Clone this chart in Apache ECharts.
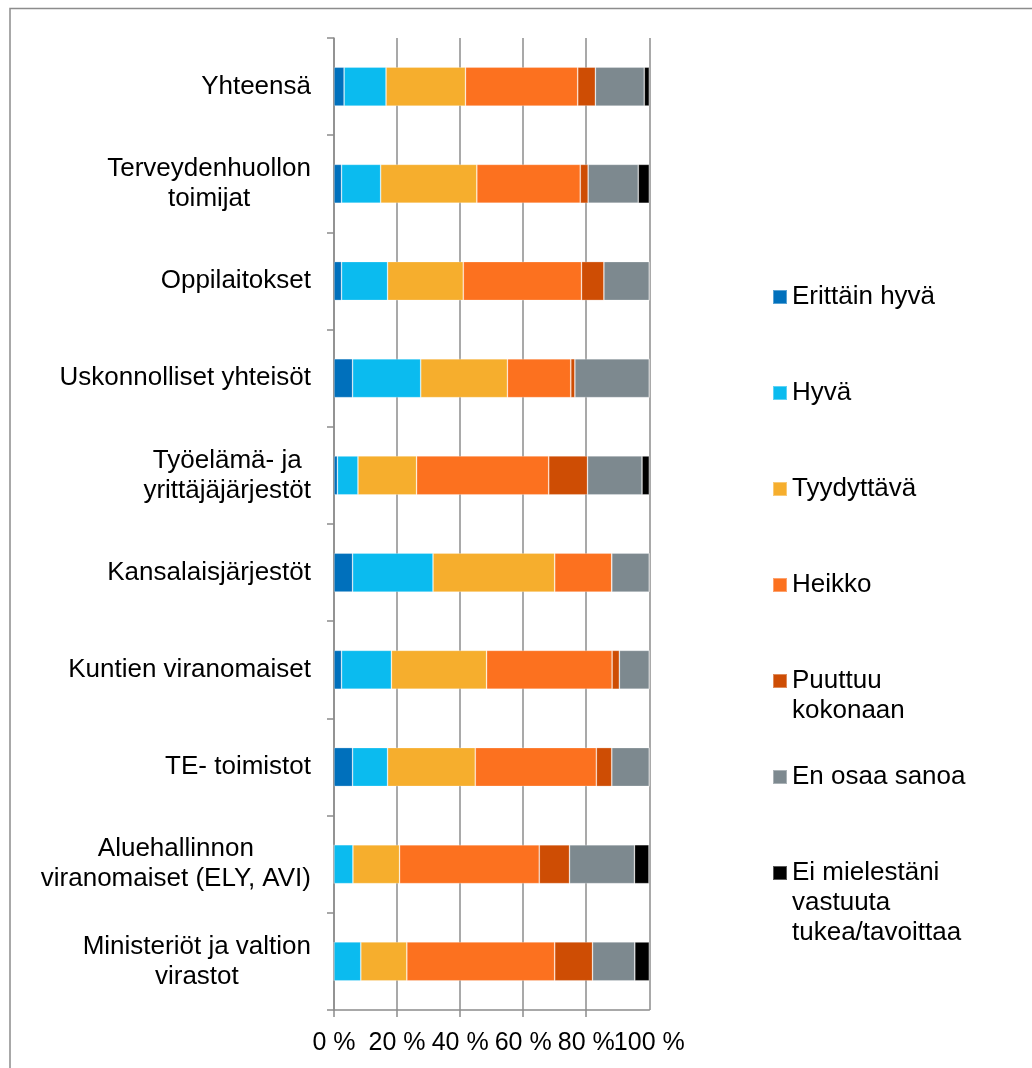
<!DOCTYPE html>
<html>
<head>
<meta charset="utf-8">
<script src="https://cdn.jsdelivr.net/npm/echarts@6/dist/echarts.min.js"></script>
<style>
  html, body { margin: 0; padding: 0; background: #fff; }
  #chart { width: 1032px; height: 1068px; }
</style>
</head>
<body>
<div id="chart"></div>
<script>
// Categories, top to bottom
const categories = [
  'Yhteensä',
  'Terveydenhuollon\ntoimijat',
  'Oppilaitokset',
  'Uskonnolliset yhteisöt',
  'Työelämä- ja\nyrittäjäjärjestöt',
  'Kansalaisjärjestöt',
  'Kuntien viranomaiset',
  'TE- toimistot',
  'Aluehallinnon\nviranomaiset (ELY, AVI)',
  'Ministeriöt ja valtion\nvirastot'
];

// Share of answers (%) per category
const erittainHyva = [3.2, 2.4, 2.4, 5.9, 1.1, 5.9, 2.4, 5.9, 0, 0];
const hyva         = [13.3, 12.4, 14.6, 21.6, 6.5, 25.5, 15.8, 11.1, 6.0, 8.5];
const tyydyttava   = [25.2, 30.5, 24.0, 27.5, 18.6, 38.6, 30.2, 27.8, 14.8, 14.6];
const heikko       = [35.6, 32.8, 37.5, 20.1, 41.9, 18.1, 39.8, 38.4, 44.3, 46.9];
const puuttuu      = [5.6, 2.5, 7.1, 1.3, 12.3, 0, 2.3, 4.9, 9.6, 12.0];
const enOsaa       = [15.5, 15.9, 14.4, 23.6, 17.3, 11.9, 9.5, 11.9, 20.6, 13.4];
const eiVastuuta   = [1.6, 3.5, 0, 0, 2.3, 0, 0, 0, 4.6, 4.6];

const seriesNames = [
  'Erittäin hyvä', 'Hyvä', 'Tyydyttävä', 'Heikko',
  'Puuttuu kokonaan', 'En osaa sanoa', 'Ei mielestäni vastuuta tukea/tavoittaa'
];
const legendLines = [
  ['Erittäin hyvä'], ['Hyvä'], ['Tyydyttävä'], ['Heikko'],
  ['Puuttuu', 'kokonaan'], ['En osaa sanoa'], ['Ei mielestäni', 'vastuuta', 'tukea/tavoittaa']
];
const xTickValues = [0, 20, 40, 60, 80, 100];
const xTickLabels = ['0 %', '20 %', '40 %', '60 %', '80 %', '100 %'];

const seriesData = [erittainHyva, hyva, tyydyttava, heikko, puuttuu, enOsaa, eiVastuuta];
const colors = ['#0070BC', '#0BBBEF', '#F6AE2D', '#FC711F', '#CE4D04', '#7D898F', '#000000'];

const FONT = 'Liberation Sans, Arial, sans-serif';
const GRAY = '#8c8c8c';
const LINE_H = 30;

// One legend block per series, stacked down the right side; the swatch sits
// beside the first line of each (possibly wrapped) label.
const legends = seriesNames.map((name, i) => {
  const lines = legendLines[i];
  const k = lines.length;
  const text = Array(k - 1).fill('').concat(lines).join('\n');
  const centerY = 297 + i * 96;
  return {
    data: [name],
    orient: 'vertical',
    left: 772,
    top: centerY - (2 * k - 1) * LINE_H / 2,
    padding: 0,
    itemWidth: 14,
    itemHeight: 14,
    icon: 'rect',
    formatter: () => text,
    textStyle: { fontSize: 26, lineHeight: LINE_H, color: '#000', fontFamily: FONT }
  };
});

const lastTick = xTickValues[xTickValues.length - 1];
const tickLabel = v => xTickLabels[xTickValues.indexOf(v)];
const xLabelStyle = {
  margin: 18,
  fontSize: 25,
  lineHeight: LINE_H,
  color: '#000',
  fontFamily: FONT,
  hideOverlap: false
};

const chart = echarts.init(document.getElementById('chart'), null, { renderer: 'canvas' });

chart.setOption({
  animation: false,
  backgroundColor: '#fff',
  color: colors,
  graphic: [{
    type: 'rect',
    shape: { x: 10, y: 8.5, width: 1100, height: 1100 },
    style: { fill: 'none', stroke: GRAY, lineWidth: 1.5 },
    z: -10
  }],
  legend: legends,
  grid: {
    left: 334,
    right: 1032 - 649.3,
    top: 38,
    bottom: 1068 - 1010,
    containLabel: false,
    outerBoundsMode: 'none'
  },
  // The wide percentage labels touch each other, so the last one is written
  // by a second, otherwise invisible axis on the same scale.
  xAxis: [{
    type: 'value',
    position: 'bottom',
    min: 0,
    max: 100,
    interval: 20,
    axisLine: { show: true, lineStyle: { color: GRAY, width: 1.5 } },
    axisTick: { show: true, length: 7, lineStyle: { color: GRAY, width: 1.5 } },
    splitLine: { show: true, lineStyle: { color: GRAY, width: 1.5 } },
    axisLabel: Object.assign({}, xLabelStyle, {
      showMaxLabel: false,
      formatter: v => (v === lastTick ? '' : tickLabel(v))
    })
  }, {
    type: 'value',
    position: 'bottom',
    offset: 0,
    min: 0,
    max: 100,
    interval: 20,
    axisLine: { show: false },
    axisTick: { show: false },
    splitLine: { show: false },
    axisLabel: Object.assign({}, xLabelStyle, {
      showMinLabel: false,
      showMaxLabel: true,
      formatter: v => (v === lastTick ? tickLabel(v) : '')
    })
  }],
  yAxis: {
    type: 'category',
    data: categories,
    inverse: true,
    axisLine: { show: true, lineStyle: { color: GRAY, width: 1.5 } },
    axisTick: { show: true, length: 7, lineStyle: { color: GRAY, width: 1.5 } },
    splitLine: { show: false },
    axisLabel: {
      interval: 0,
      margin: 23,
      align: 'right',
      formatter: v => v.split('\n').map(l => '{c|' + l + '}').join('\n'),
      rich: {
        c: { align: 'center', fontSize: 26, lineHeight: LINE_H, color: '#000', fontFamily: FONT }
      }
    }
  },
  series: seriesNames.map((name, i) => ({
    name: name,
    type: 'bar',
    stack: 'total',
    xAxisIndex: 0,
    barCategoryGap: '60%',
    data: seriesData[i],
    itemStyle: { color: colors[i], borderColor: 'rgba(255,255,255,0.35)', borderWidth: 0.75 },
    emphasis: { disabled: true }
  }))
});
</script>
</body>
</html>
